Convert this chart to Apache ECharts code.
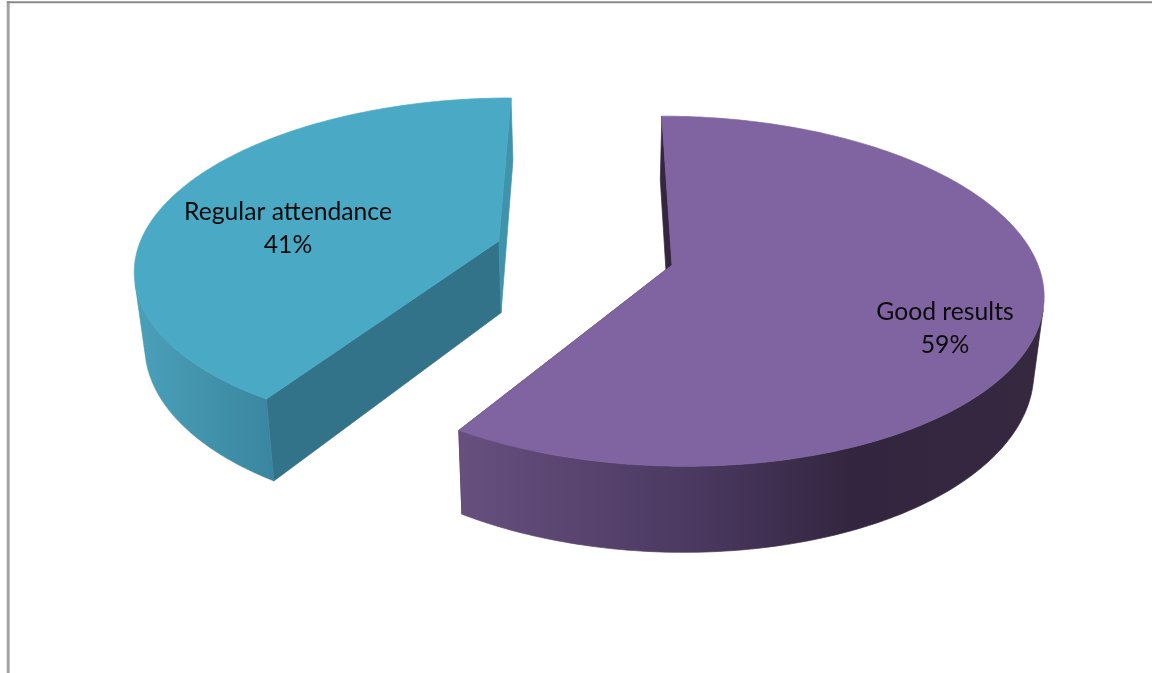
<!DOCTYPE html>
<html>
<head>
<meta charset="utf-8">
<style>html,body{margin:0;padding:0;background:#fff}#chart{width:1152px;height:673px}</style>
<script src="https://cdn.jsdelivr.net/npm/echarts@6/dist/echarts.min.js"></script>
</head>
<body>
<div id="chart"></div>
<script>
// Share of each reason, in percent
const reasons = ['Good results', 'Regular attendance'];
const shares = [59, 41];

// Perspective camera for the tilted disc
const VANISH_X = 594, HORIZON_Y = -879, DEPTH_SCALE = 1144, SPREAD = 366, FORESHORTEN = 0.1496;
// Lower face of the disc relative to the upper face
const FLOOR_X = 0.977, FLOOR_Y = 1.064;

// Appearance of each slice: pull-out from the disc centre, colours, label anchor
const looks = [
  {
    pull: [0.2131, 0], top: '#8064a1', startWall: '#33263f', endWall: '#33263f',
    rim: { from: 455, to: 1040, stops: [[0, '#67507f'], [0.42, '#4a3860'], [0.68, '#33253f'], [1, '#35283f']] },
    label: [945, 312]
  },
  {
    pull: [-0.2655, 0.143], top: '#4aa9c4', startWall: '#33738a', endWall: '#3f93aa',
    rim: { from: 140, to: 272, stops: [[0, '#4a9fb8'], [1, '#3a86a0']] },
    label: [288, 212]
  }
];

function project(x, z) {
  const w = 1 + FORESHORTEN * z;
  return [VANISH_X + SPREAD * x / w, HORIZON_Y + DEPTH_SCALE / w];
}
function toFloor(p) {
  return [VANISH_X + (p[0] - VANISH_X) * FLOOR_X, HORIZON_Y + (p[1] - HORIZON_Y) * FLOOR_Y];
}

const total = shares.reduce((a, b) => a + b, 0);

function renderSlice(params, api) {
  const i = params.dataIndex;
  const look = looks[i];
  const value = api.value(0);
  const before = shares.slice(0, i).reduce((a, b) => a + b, 0);
  const a0 = before / total * Math.PI * 2;
  const a1 = (before + value) / total * Math.PI * 2;

  const apex = project(look.pull[0], look.pull[1]);
  const arc = [];
  const steps = 240;
  for (let s = 0; s <= steps; s++) {
    const a = a0 + (a1 - a0) * s / steps;
    arc.push(project(look.pull[0] + Math.sin(a), look.pull[1] + Math.cos(a)));
  }
  const floorArc = arc.map(toFloor);
  const floorApex = toFloor(apex);

  // Keep only the part of the curved wall that faces the viewer, so its outline
  // runs along the tangent between the upper and lower rims.
  const frontTop = [], frontFloor = [];
  for (let s = 0; s < steps; s++) {
    const dx = arc[s + 1][0] - arc[s][0], dy = arc[s + 1][1] - arc[s][1];
    const ex = floorArc[s][0] - arc[s][0], ey = floorArc[s][1] - arc[s][1];
    if (dx * ey - dy * ex < 0) {
      frontTop.push(arc[s], arc[s + 1]);
      frontFloor.push(floorArc[s], floorArc[s + 1]);
    }
  }

  // A hairline in the fill colour closes the gaps between neighbouring faces.
  const poly = (points, fill) => ({
    type: 'polygon',
    shape: { points },
    style: { fill, stroke: fill, lineWidth: 0.7, lineJoin: 'round' },
    silent: true
  });
  const rimFill = {
    type: 'linear', global: true,
    x: look.rim.from, y: 0, x2: look.rim.to, y2: 0,
    colorStops: look.rim.stops.map(s => ({ offset: s[0], color: s[1] }))
  };

  const lineHeight = 33;
  const textAt = (text, y) => ({
    type: 'text',
    silent: true,
    style: {
      text, x: look.label[0], y,
      fill: '#0a0a0a', font: '24.7px Lato, sans-serif',
      textAlign: 'center', textVerticalAlign: 'middle'
    }
  });

  return {
    type: 'group',
    children: [
      poly([apex, arc[0], floorArc[0], floorApex], look.startWall),
      poly([apex, arc[steps], floorArc[steps], floorApex], look.endWall),
      poly(frontTop.concat(frontFloor.slice().reverse()), rimFill),
      poly([apex].concat(arc), look.top),
      textAt(api.value(1), look.label[1]),
      textAt(value + '%', look.label[1] + lineHeight)
    ]
  };
}

const chart = echarts.init(document.getElementById('chart'), null, { renderer: 'canvas' });
chart.setOption({
  animation: false,
  backgroundColor: '#ffffff',
  graphic: [
    // Chart-area frame, running off the right and bottom of the page
    { type: 'line', silent: true, shape: { x1: 8.2, y1: 1, x2: 8.2, y2: 673 },
      style: { stroke: '#a3a3a3', lineWidth: 3 } },
    { type: 'line', silent: true, shape: { x1: 7, y1: 2.3, x2: 1152, y2: 2.3 },
      style: { stroke: '#8a8a8a', lineWidth: 2 } }
  ],
  series: [{
    type: 'custom',
    coordinateSystem: 'none',
    renderItem: renderSlice,
    data: shares.map((v, i) => [v, reasons[i]])
  }]
});
</script>
</body>
</html>
